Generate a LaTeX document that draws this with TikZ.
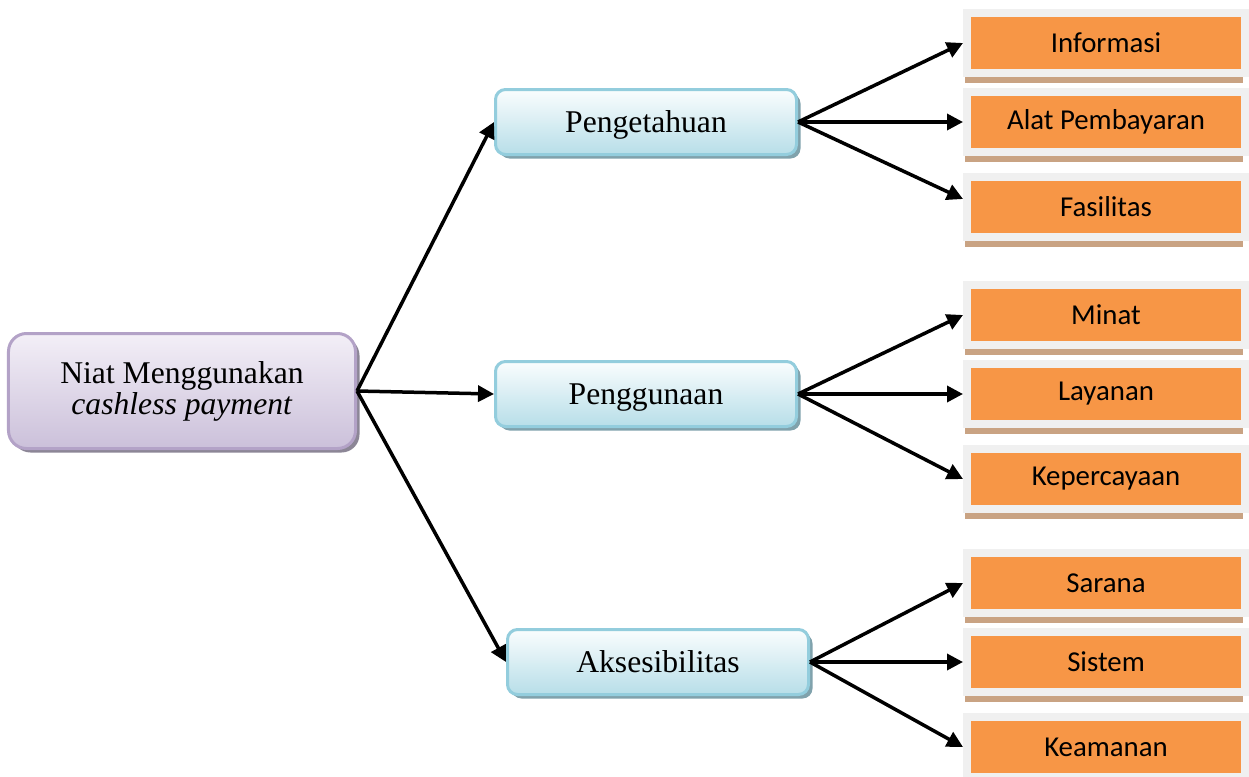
\documentclass[tikz,border=0pt]{standalone}
\usepackage{fontspec}
\setmainfont{Liberation Serif}
\newfontfamily\calibrifont{Carlito}
\usepackage{tikz}
\usepackage{xcolor}
\usetikzlibrary{arrows.meta, shadows}
\definecolor{rootfilltop}{RGB}{243, 239, 247}
\definecolor{rootfillbot}{RGB}{203, 192, 218}
\definecolor{rootedge}{RGB}{179, 162, 199}
\definecolor{rootshadow}{RGB}{140, 134, 150}
\definecolor{midfilltop}{RGB}{250, 253, 254}
\definecolor{midfillbot}{RGB}{183, 222, 232}
\definecolor{midedge}{RGB}{147, 205, 221}
\definecolor{midshadow}{RGB}{128, 162, 172}
\definecolor{leaforange}{RGB}{247, 150, 70}
\definecolor{leafframe}{RGB}{240, 240, 240}
\definecolor{leafshadow}{RGB}{201, 163, 131}

\begin{document}
\begin{tikzpicture}[
    x=0.2mm, y=-0.2mm,
    rootbox/.style={rectangle, rounded corners=3.6mm, minimum width=69.4mm, minimum height=23mm, align=center,
        line width=0.6mm, draw=rootedge, top color=rootfilltop, bottom color=rootfillbot,
        drop shadow={shadow xshift=0.8mm, shadow yshift=-0.8mm, fill=rootshadow, opacity=1},
        font=\fontsize{18}{17.6}\selectfont},
    midbox/.style={rectangle, rounded corners=2mm, minimum width=60.2mm, minimum height=13mm, align=center,
        line width=0.6mm, draw=midedge, top color=midfilltop, bottom color=midfillbot,
        drop shadow={shadow xshift=0.8mm, shadow yshift=-0.8mm, fill=midshadow, opacity=1},
        text height=12.4pt, text depth=0pt,
        font=\fontsize{18}{22}\selectfont},
    leaf/.style={rectangle, minimum width=55.6mm, minimum height=12mm, inner sep=0pt,
        line width=1.6mm, draw=leafframe, fill=leaforange,
        drop shadow={shadow xshift=-0.4mm, shadow yshift=-2mm, fill=leafshadow, opacity=1},
        font=\calibrifont\fontsize{16.4}{20}\selectfont},
    arrow/.style={-{Triangle[length=3.2mm, width=3.2mm]}, line width=0.7mm, black}
]
\useasboundingbox (0,0) rectangle (1249,776);

% Root box
\node[rootbox] (root) at (182,391) {Niat Menggunakan\\\textit{cashless payment}};

% Middle boxes
\node[midbox] (pengetahuan) at (646,122) {Pengetahuan};
\node[midbox] (penggunaan) at (646,394) {Penggunaan};
\node[midbox] (aksesibilitas) at (658,662) {Aksesibilitas};

% Leaf boxes
\node[leaf] (informasi) at (1106,43) {Informasi};
\node[leaf] (alat) at (1106,122) {Alat Pembayaran};
\node[leaf] (fasilitas) at (1106,207) {Fasilitas};

\node[leaf] (minat) at (1106,315) {Minat};
\node[leaf] (layanan) at (1106,394) {Layanan};
\node[leaf] (kepercayaan) at (1106,479) {Kepercayaan};

\node[leaf] (sarana) at (1106,583) {Sarana};
\node[leaf] (sistem) at (1106,662) {Sistem};
\node[leaf] (keamanan) at (1106,747) {Keamanan};

% Connecting arrows
\draw[arrow] (root.east) -- (pengetahuan.west);
\draw[arrow] (root.east) -- (penggunaan.west);
\draw[arrow] (root.east) -- (aksesibilitas.west);

\draw[arrow] (pengetahuan.east) -- (informasi.west);
\draw[arrow] (pengetahuan.east) -- (alat.west);
\draw[arrow] (pengetahuan.east) -- ([yshift=1.6mm]fasilitas.west);

\draw[arrow] (penggunaan.east) -- (minat.west);
\draw[arrow] (penggunaan.east) -- (layanan.west);
\draw[arrow] (penggunaan.east) -- (kepercayaan.west);

\draw[arrow] (aksesibilitas.east) -- (sarana.west);
\draw[arrow] (aksesibilitas.east) -- (sistem.west);
\draw[arrow] (aksesibilitas.east) -- (keamanan.west);

\end{tikzpicture}
\end{document}
